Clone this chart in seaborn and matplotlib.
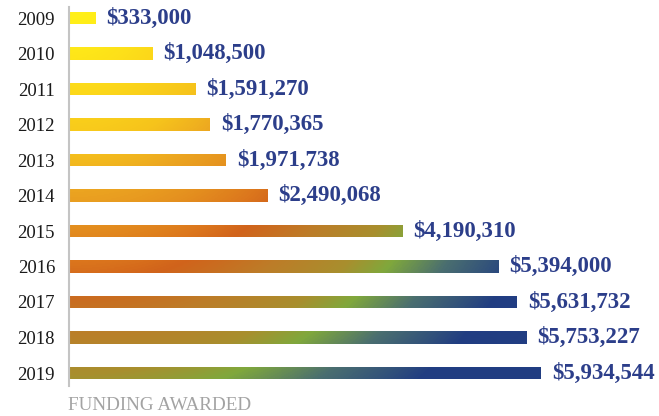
import numpy as np
import pandas as pd
import matplotlib
matplotlib.use('Agg')
import matplotlib.pyplot as plt
import seaborn as sns
from matplotlib.colors import LinearSegmentedColormap

# --- dados ---
anos = ['2009', '2010', '2011', '2012', '2013', '2014', '2015', '2016', '2017', '2018', '2019']
valores = [333000, 1048500, 1591270, 1770365, 1971738, 2490068,
           4190310, 5394000, 5631732, 5753227, 5934544]
rotulos = ['$333,000', '$1,048,500', '$1,591,270', '$1,770,365', '$1,971,738', '$2,490,068',
           '$4,190,310', '$5,394,000', '$5,631,732', '$5,753,227', '$5,934,544']

df = pd.DataFrame({'ano': anos, 'valor': valores})

sns.set_style('white')
plt.rcParams['font.family'] = ['Liberation Serif', 'DejaVu Serif']

W, H = 659, 416
fig = plt.figure(figsize=(W / 100, H / 100), dpi=100)

# posicao do eixo em pixels
ax_x0, ax_x1 = 69, 659
ax_y0, ax_y1 = 7, 386
ax = fig.add_axes([ax_x0 / W, 1 - ax_y1 / H, (ax_x1 - ax_x0) / W, (ax_y1 - ax_y0) / H])

xmax = (ax_x1 - ax_x0) * valores[-1] / (541 - ax_x0)
y_top = (ax_y0 - 18) / 35.5
y_bot = (ax_y1 - 18) / 35.5

sns.barplot(data=df, x='valor', y='ano', orient='h', width=0.34, ax=ax,
            color='white', saturation=1, linewidth=0)

# --- gradiente radial (amarelo -> laranja -> verde -> azul) ---
paradas = [(0, '#fff21a'), (40, '#ffec18'), (100, '#fcd71a'), (155, '#f6c31c'),
           (195, '#eca621'), (235, '#e48f1f'), (270, '#dc771d'), (295, '#d1631b'),
           (340, '#bd7c28'), (390, '#a88f2e'), (422, '#80a83c'), (466, '#4a6e70'),
           (508, '#2f4e7c'), (528, '#213d82'), (700, '#213d82')]
cmap = LinearSegmentedColormap.from_list('grad', [(r / 700, c) for r, c in paradas])

nh, nw = ax_y1 - ax_y0, ax_x1 - ax_x0
py, px = np.mgrid[0:nh, 0:nw]
px = px + 0.5
py = py + ax_y0 + 0.5
raio = np.sqrt(px ** 2 + 1.08 * py ** 2) / 700
img = cmap(np.clip(raio, 0, 1))

for barra in ax.patches:
    im = ax.imshow(img, extent=(0, xmax, y_bot, y_top), origin='upper',
                   aspect='auto', interpolation='bilinear', zorder=2)
    im.set_clip_path(barra)

for barra, txt in zip(ax.patches, rotulos):
    ax.annotate(txt, (barra.get_x() + barra.get_width(), barra.get_y() + barra.get_height() / 2),
                xytext=(11, 0), textcoords='offset pixels', ha='left', va='center',
                fontsize=16.5, fontweight='bold', color='#2c3e8a', zorder=3)

ax.set_xlim(0, xmax)
ax.set_ylim(y_bot, y_top)
ax.set_xlabel('')
ax.set_ylabel('')
ax.set_xticks([])
ax.tick_params(axis='y', length=0, pad=10, labelsize=13.5, labelcolor='#1a1a1a')
ax.spines[['right', 'top', 'bottom']].set_visible(False)
ax.spines['left'].set_color('#c4c4c4')
ax.spines['left'].set_linewidth(1.5)
ax.set_facecolor('white')

fig.text(68 / W, 1 - 405 / H, 'FUNDING AWARDED', ha='left', va='center',
         fontsize=13.8, color='#a3a3a3')

fig.savefig('out.png', dpi=100, facecolor='white')
